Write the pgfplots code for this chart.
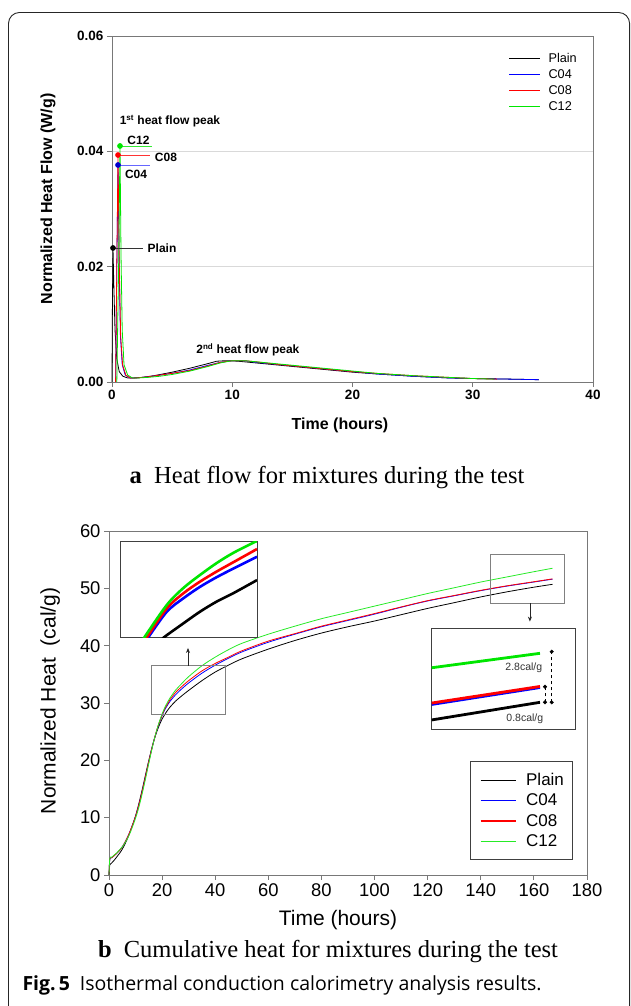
\documentclass[border=0pt]{standalone}
\usepackage{fontspec}
\setmainfont{Liberation Serif}
\newfontfamily\arial{Liberation Sans}
\newfontfamily\figsans{Open Sans}
\usepackage{pgfplots}
\pgfplotsset{compat=1.18}
\usetikzlibrary{arrows.meta}

\definecolor{cPlain}{RGB}{0,0,0}
\definecolor{cC04}{RGB}{0,0,255}
\definecolor{cC08}{RGB}{255,0,0}
\definecolor{cC12}{RGB}{0,230,0}
\definecolor{axgray}{RGB}{120,120,120}

% ---------- heat flow (W/g) ----------
\pgfplotstableread{
t v
0 0
0.03 0.012
0.083 0.0232
0.15 0.017
0.25 0.009
0.4 0.004
0.6 0.0018
0.9 0.001
1.3 0.0007
1.8 0.0007
2.5 0.0008
3.5 0.0011
5 0.0017
6.5 0.0024
8 0.0032
8.7 0.0036
9.5 0.0037
10.5 0.0036
12 0.0033
14 0.0029
16 0.0025
18 0.0021
20 0.0017
22 0.0014
25 0.0010
28 0.0007
30 0.0006
33 0.0005
35.5 0.0004
}\flowPlain
\pgfplotstableread{
t v
0.3 0
0.4 0.02
0.5 0.0376
0.6 0.02
0.7 0.008
0.85 0.003
1.1 0.0012
1.5 0.0007
2 0.0007
3 0.0009
4 0.0012
5 0.0015
6.5 0.0021
8 0.0029
9 0.0034
10 0.0037
11 0.0037
12 0.0034
14 0.0030
16 0.0026
18 0.0022
20 0.0018
22 0.0014
25 0.0010
28 0.0007
30 0.0006
33 0.0005
35.5 0.0004
}\flowCfour
\pgfplotstableread{
t v
0.3 0
0.4 0.02
0.5 0.0394
0.6 0.021
0.72 0.008
0.88 0.003
1.15 0.0012
1.5 0.0007
2 0.0007
3 0.0009
4 0.0012
5 0.0015
6.5 0.0020
8 0.0028
9 0.0034
10 0.0037
11 0.0037
12 0.0035
14 0.0030
16 0.0026
18 0.0022
20 0.0018
22 0.0015
25 0.0011
28 0.0008
30 0.0006
32 0.0005
}\flowCeight
\pgfplotstableread{
t v
0.4 0
0.55 0.02
0.665 0.0409
0.75 0.022
0.85 0.009
1.0 0.003
1.3 0.0012
1.7 0.0007
2.2 0.0007
3 0.0008
4 0.0010
5 0.0013
6.5 0.0019
8 0.0027
9 0.0033
10 0.0037
11 0.0037
12 0.0035
14 0.0031
16 0.0027
18 0.0023
20 0.0019
22 0.0015
25 0.0011
28 0.0008
30 0.0006
31.8 0.0005
}\flowCtwelve

% ---------- cumulative heat (cal/g) ----------
\pgfplotstableread{
t h
0 0
0.3 1.8
1 2.1
2 2.6
3 3.2
4 3.8
5 4.5
6 5.4
7 6.4
8 7.6
9 8.9
10 10.3
11 12.0
12 13.9
13 15.9
14 18.0
15 20.0
16 21.9
17 23.6
18 25.0
19 26.2
20 27.2
21 28.0
22 28.7
23 29.3
25 30.3
27 31.1
30 32.2
35 33.9
40 35.4
45 36.6
50 37.7
60 39.4
70 40.9
80 42.2
90 43.3
100 44.3
110 45.4
120 46.5
130 47.5
140 48.5
150 49.4
160 50.2
167 50.7
}\cumPlain
\pgfplotstableread{
t h
0 0
0.3 2.7
1 3.0
2 3.4
3 3.8
4 4.3
5 4.9
6 5.7
7 6.6
8 7.7
9 8.9
10 10.2
11 11.8
12 13.6
13 15.6
14 17.7
15 19.8
16 21.8
17 23.6
18 25.2
19 26.6
20 27.8
21 28.8
22 29.6
23 30.3
25 31.4
27 32.3
30 33.5
35 35.2
40 36.6
45 37.8
50 38.9
60 40.6
70 42.0
80 43.3
90 44.4
100 45.5
110 46.7
120 47.8
130 48.7
140 49.6
150 50.4
160 51.1
167 51.6
}\cumCfour
\pgfplotstableread{
t h
0 0
0.3 2.8
1 3.0
2 3.4
3 3.8
4 4.3
5 4.9
6 5.7
7 6.6
8 7.7
9 8.9
10 10.2
11 11.8
12 13.6
13 15.6
14 17.7
15 19.8
16 21.8
17 23.6
18 25.3
19 26.7
20 27.9
21 29.0
22 29.8
23 30.6
25 31.8
27 32.7
30 33.9
35 35.6
40 36.9
45 38.0
50 39.1
60 40.8
70 42.1
80 43.4
90 44.5
100 45.6
110 46.75
120 47.85
130 48.75
140 49.65
150 50.45
160 51.15
167 51.65
}\cumCeight
\pgfplotstableread{
t h
0 0
0.3 2.9
1 3.1
2 3.5
3 3.9
4 4.4
5 4.9
6 5.6
7 6.4
8 7.4
9 8.6
10 9.9
11 11.4
12 13.2
13 15.2
14 17.3
15 19.5
16 21.6
17 23.6
18 25.3
19 26.8
20 28.1
21 29.2
22 30.1
23 30.9
25 32.2
27 33.2
30 34.6
35 36.5
40 38.0
45 39.3
50 40.4
60 42.0
70 43.4
80 44.7
90 45.8
100 46.9
110 48.0
120 49.1
130 50.1
140 51.1
150 52.0
160 52.9
167 53.5
}\cumCtwelve

\begin{document}
\begin{tikzpicture}
\useasboundingbox (0pt,0pt) rectangle (630pt,1006pt);
\draw[black!85, line width=0.9pt, rounded corners=11pt] (8.5pt,-4pt) -- (8.5pt,993.5pt) -- (629.6pt,993.5pt) -- (629.6pt,-4pt);

% ================= (a) heat flow =================
\begin{axis}[
  at={(112pt,624pt)}, anchor=south west, scale only axis,
  width=481pt, height=346pt,
  xmin=0, xmax=40, ymin=0, ymax=0.06,
  xtick={0,10,20,30,40}, ytick={0,0.02,0.04,0.06},
  tick align=outside, xtick pos=bottom, ytick pos=left,
  major tick length=5pt,
  axis line style={axgray, line width=0.8pt},
  tick style={axgray, line width=0.8pt},
  ymajorgrids, grid style={black!15, line width=0.8pt},
  /pgf/number format/assume math mode=true,
  tick label style={font=\arial\bfseries\fontsize{13.5}{14}\selectfont},
  yticklabel style={/pgf/number format/fixed, /pgf/number format/fixed zerofill, /pgf/number format/precision=2},
  scaled y ticks=false,
  xlabel={Time (hours)}, ylabel={Normalized Heat Flow (W/g)},
  every axis x label/.style={at={(axis description cs:0.474,-0.124)}, anchor=center, font=\arial\bfseries\fontsize{16}{18}\selectfont},
  every axis y label/.style={at={(axis description cs:-0.133,0.529)}, rotate=90, anchor=center, font=\arial\bfseries\fontsize{16}{18}\selectfont},
  legend style={draw=none, fill=none, at={(axis description cs:0.975,0.962)}, anchor=north east,
    font=\arial\fontsize{12.7}{13}\selectfont, row sep=1.6pt, inner xsep=2pt},
  legend cell align=left,
  legend image code/.code={\draw[#1, line width=0.8pt] (0pt,0pt) -- (31pt,0pt);},
  clip=false,
]
\addplot[draw=cPlain, line width=0.8pt] table {\flowPlain}; \addlegendentry{\hspace{6pt}Plain}
\addplot[draw=cC04, line width=0.8pt] table {\flowCfour}; \addlegendentry{\hspace{6pt}C04}
\addplot[draw=cC08, line width=0.8pt] table {\flowCeight}; \addlegendentry{\hspace{6pt}C08}
\addplot[draw=cC12, line width=0.8pt] table {\flowCtwelve}; \addlegendentry{\hspace{6pt}C12}
% peak markers
\addplot[draw=cC12!80, line width=0.8pt, forget plot] coordinates {(0.665,0.04093) (3.33,0.04093)};
\addplot[draw=cC08!80, line width=0.8pt, forget plot] coordinates {(0.5,0.03936) (3.16,0.03936)};
\addplot[draw=cC04!60, line width=0.8pt, forget plot] coordinates {(0.5,0.03763) (3.16,0.03763)};
\addplot[draw=black!80, line width=0.8pt, forget plot] coordinates {(0.083,0.02324) (2.58,0.02324)};
\addplot[only marks, mark=*, mark size=2.6pt, color=cC12, forget plot] coordinates {(0.665,0.04093)};
\addplot[only marks, mark=*, mark size=2.6pt, color=cC08, forget plot] coordinates {(0.5,0.03936)};
\addplot[only marks, mark=*, mark size=2.6pt, color=cC04!80!black, forget plot] coordinates {(0.5,0.03763)};
\addplot[only marks, mark=*, mark size=2.6pt, color=black, forget plot] coordinates {(0.083,0.02324)};
\node[font=\arial\bfseries\fontsize{12}{12}\selectfont] at (axis cs:2.2,0.04197) {C12};
\node[font=\arial\bfseries\fontsize{12}{12}\selectfont] at (axis cs:4.49,0.0390) {C08};
\node[font=\arial\bfseries\fontsize{12}{12}\selectfont] at (axis cs:2.0,0.03607) {C04};
\node[font=\arial\bfseries\fontsize{12}{12}\selectfont] at (axis cs:4.16,0.02324) {Plain};
\node[font=\arial\bfseries\fontsize{12}{12}\selectfont] at (axis cs:4.82,0.04526) {1\textsuperscript{st} heat flow peak};
\node[font=\arial\bfseries\fontsize{12}{12}\selectfont] at (axis cs:11.3,0.00555) {2\textsuperscript{nd} heat flow peak};
\end{axis}

% caption a
\node[anchor=base, font=\fontsize{24.5}{26}\selectfont] at (327pt,522pt) {\textbf{a}\hspace{0.5em}Heat flow for mixtures during the test};

% ================= (b) cumulative heat =================
\begin{axis}[
  at={(109pt,131pt)}, anchor=south west, scale only axis,
  width=478pt, height=344pt,
  xmin=0, xmax=180, ymin=0, ymax=60,
  xtick={0,20,...,180}, ytick={0,10,...,60},
  tick align=outside, xtick pos=bottom, ytick pos=left,
  major tick length=5pt,
  axis line style={axgray, line width=0.8pt},
  tick style={axgray, line width=0.8pt},
  tick label style={font=\arial\fontsize{18.4}{19}\selectfont},
  /pgf/number format/assume math mode=true,
  xlabel={Time (hours)}, ylabel={Normalized Heat\ \ (cal/g)},
  every axis x label/.style={at={(axis description cs:0.479,-0.13)}, anchor=center, font=\arial\fontsize{21}{22}\selectfont},
  every axis y label/.style={at={(axis description cs:-0.123,0.506)}, rotate=90, anchor=center, font=\arial\fontsize{21}{22}\selectfont},
  legend style={draw=none, fill=none, at={(axis description cs:0.866,0.187)}, anchor=center,
    font=\arial\fontsize{17}{18}\selectfont, row sep=2.8pt, inner xsep=2pt, inner ysep=2pt},
  legend cell align=left,
  legend image code/.code={\draw[#1, line width=1.2pt] (0pt,0pt) -- (35pt,0pt);},
  clip=false,
]
\draw[black!75, line width=0.8pt, fill=white] (axis description cs:0.757,0.0465) rectangle (axis description cs:0.9697,0.329);
\addplot[draw=cPlain, line width=0.8pt, smooth] table {\cumPlain}; \addlegendentry{\hspace{8pt}Plain}
\addplot[draw=cC04, line width=0.8pt, smooth] table {\cumCfour}; \addlegendentry{\hspace{8pt}C04}
\addplot[draw=cC08, line width=0.8pt, smooth] table {\cumCeight}; \addlegendentry{\hspace{8pt}C08}
\addplot[draw=cC12!85!white, line width=0.8pt, smooth] table {\cumCtwelve}; \addlegendentry{\hspace{8pt}C12}
% zoom boxes and arrows
\draw[black!50, line width=0.8pt] (axis cs:16,28) rectangle (axis cs:44,36.5);
\draw[black!50, line width=0.8pt] (axis cs:143.5,47.4) rectangle (axis cs:171.5,55.9);
\draw[black!85, line width=0.8pt, -{Stealth[length=5pt,width=4pt]}] (axis cs:29.75,36.5) -- (axis cs:29.75,39.6);
\draw[black!85, line width=0.8pt, -{Stealth[length=5pt,width=4pt]}] (axis cs:158.5,47.4) -- (axis cs:158.5,44.2);
\end{axis}

% ---- inset 1 (early knee) ----
\begin{axis}[
  at={(120.5pt,368.3pt)}, anchor=south west, scale only axis,
  width=136.5pt, height=96pt,
  xmin=16, xmax=44, ymin=28, ymax=36.5,
  ticks=none, axis line style={black!75, line width=0.8pt},
  axis background/.style={fill=white},
]
\addplot[draw=cPlain, line width=2.6pt, smooth] coordinates {(24.6,27.8) (24.9,28.03) (28.9,29.27) (32.3,30.3) (35.7,31.19) (39.1,31.93) (44,33.1)};
\addplot[draw=cC04, line width=2.6pt, smooth] coordinates {(21.5,27.8) (21.7,28.03) (25.5,30.3) (28.9,31.49) (32.3,32.5) (35.7,33.35) (39.1,34.11) (44,35.17)};
\addplot[draw=cC08, line width=2.6pt, smooth] coordinates {(21.2,27.8) (21.4,28.03) (25.5,30.6) (28.9,31.93) (32.3,32.96) (35.7,33.85) (39.1,34.67) (44,35.85)};
\addplot[draw=cC12, line width=2.6pt, smooth] coordinates {(20.7,27.8) (20.9,28.03) (25.5,30.9) (28.9,32.4) (32.3,33.55) (35.7,34.6) (39.1,35.5) (43.2,36.4) (44,36.55)};
\end{axis}

% ---- inset 2 (end values) ----
\begin{axis}[
  at={(431.7pt,276.7pt)}, anchor=south west, scale only axis,
  width=143.3pt, height=100.6pt,
  xmin=143.5, xmax=171.5, ymin=47.4, ymax=55.9,
  ticks=none, axis line style={black!75, line width=0.8pt},
  axis background/.style={fill=white},
]
\addplot[draw=cPlain, line width=2.8pt] coordinates {(143.5,48.19) (164.66,49.68)};
\addplot[draw=cC04, line width=2.8pt] coordinates {(143.5,49.5) (164.66,50.93)};
\addplot[draw=cC08, line width=2.8pt] coordinates {(143.5,49.62) (164.66,51.02)};
\addplot[draw=cC12, line width=2.8pt] coordinates {(143.5,52.6) (164.66,53.82)};
\addplot[draw=black, line width=0.7pt, dashed] coordinates {(165.64,49.68) (165.64,51.0)};
\addplot[draw=black, line width=0.7pt, dashed] coordinates {(166.95,49.68) (166.95,53.96)};
\addplot[only marks, mark=*, mark size=1.8pt, color=black] coordinates {(165.64,49.68) (166.95,49.68) (165.64,51.0) (166.95,53.96)};
\node[font=\arial\fontsize{10.5}{11}\selectfont, text=black!80] at (axis cs:161.5,52.6) {2.8cal/g};
\node[font=\arial\fontsize{10.5}{11}\selectfont, text=black!80] at (axis cs:161.7,48.27) {0.8cal/g};
\end{axis}

% caption b and figure caption
\node[anchor=base, font=\fontsize{24.5}{26}\selectfont] at (328pt,48pt) {\textbf{b}\hspace{0.5em}Cumulative heat for mixtures during the test};
\node[anchor=base west, font=\figsans\fontsize{19.5}{20}\selectfont] at (19pt,15pt) {\textbf{Fig.\,5}\hspace{0.5em}Isothermal conduction calorimetry analysis results.};
\end{tikzpicture}
\end{document}
